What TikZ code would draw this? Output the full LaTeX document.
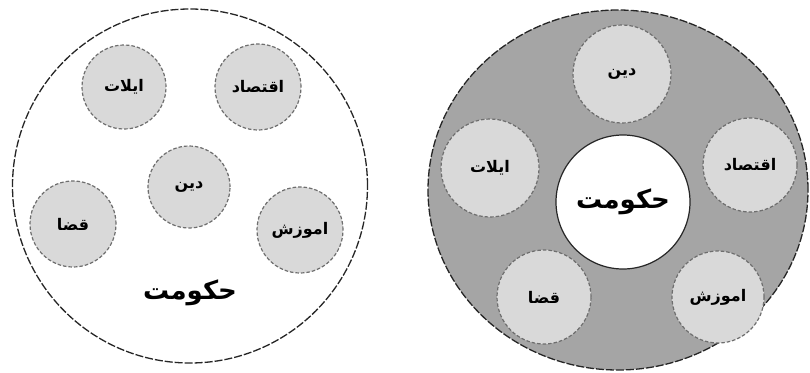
\documentclass[tikz,border=0pt]{standalone}
\usepackage{fontspec}
\usetikzlibrary{shapes.geometric}
\newfontfamily\arabicfont[Script=Arabic]{DejaVu Sans}
\TeXXeTstate=1
\newcommand{\fatext}[1]{\beginR #1\endR}
\definecolor{ringgray}{RGB}{165,165,165}
\definecolor{partgray}{RGB}{217,217,217}
\definecolor{partline}{RGB}{110,110,110}
\tikzset{
  whole/.style={ellipse,draw=black!85,line width=1.3pt,dash pattern=on 8pt off 2pt,inner sep=0pt},
  part/.style={circle,draw=partline,fill=partgray,line width=1.2pt,dash pattern=on 3.5pt off 2pt,
    inner sep=0pt,font=\arabicfont\bfseries\fontsize{16}{18}\selectfont},
  govtext/.style={font=\arabicfont\bfseries\fontsize{26}{30}\selectfont}
}
\begin{document}
\begin{tikzpicture}[x=1pt,y=-1pt]
  \useasboundingbox (0,0) rectangle (810,372);
  % left: the parts inside the government
  \node[whole,fill=white,minimum width=355pt,minimum height=354pt] (govL) at (190,186) {};
  \node[part,minimum size=84pt] (ilatL) at (124,87) {\fatext{ایلات}};
  \node[part,minimum size=86pt] (eqtL) at (258,87) {\fatext{اقتصاد}};
  \node[part,minimum size=82pt] (dinL) at (189,187) {\fatext{دین}};
  \node[part,minimum size=86pt] (qazaL) at (73,224) {\fatext{قضا}};
  \node[part,minimum size=86pt] (amuzL) at (300,230) {\fatext{اموزش}};
  \node[govtext] (govtextL) at (190,293) {\fatext{حکومت}};
  % right: the government at the centre
  \node[whole,fill=ringgray,minimum width=380pt,minimum height=360pt] (govR) at (618,190) {};
  \node[circle,draw=black!85,fill=white,line width=1.2pt,minimum size=134pt,inner sep=0pt,govtext] (centerR) at (623,202) {\fatext{حکومت}};
  \node[part,minimum size=98pt] (dinR) at (622,74) {\fatext{دین}};
  \node[part,minimum size=98pt] (ilatR) at (490,168) {\fatext{ایلات}};
  \node[part,minimum size=94pt] (eqtR) at (750,165) {\fatext{اقتصاد}};
  \node[part,minimum size=94pt] (qazaR) at (544,297) {\fatext{قضا}};
  \node[part,minimum size=92pt] (amuzR) at (718,297) {\fatext{اموزش}};
\end{tikzpicture}
\end{document}
